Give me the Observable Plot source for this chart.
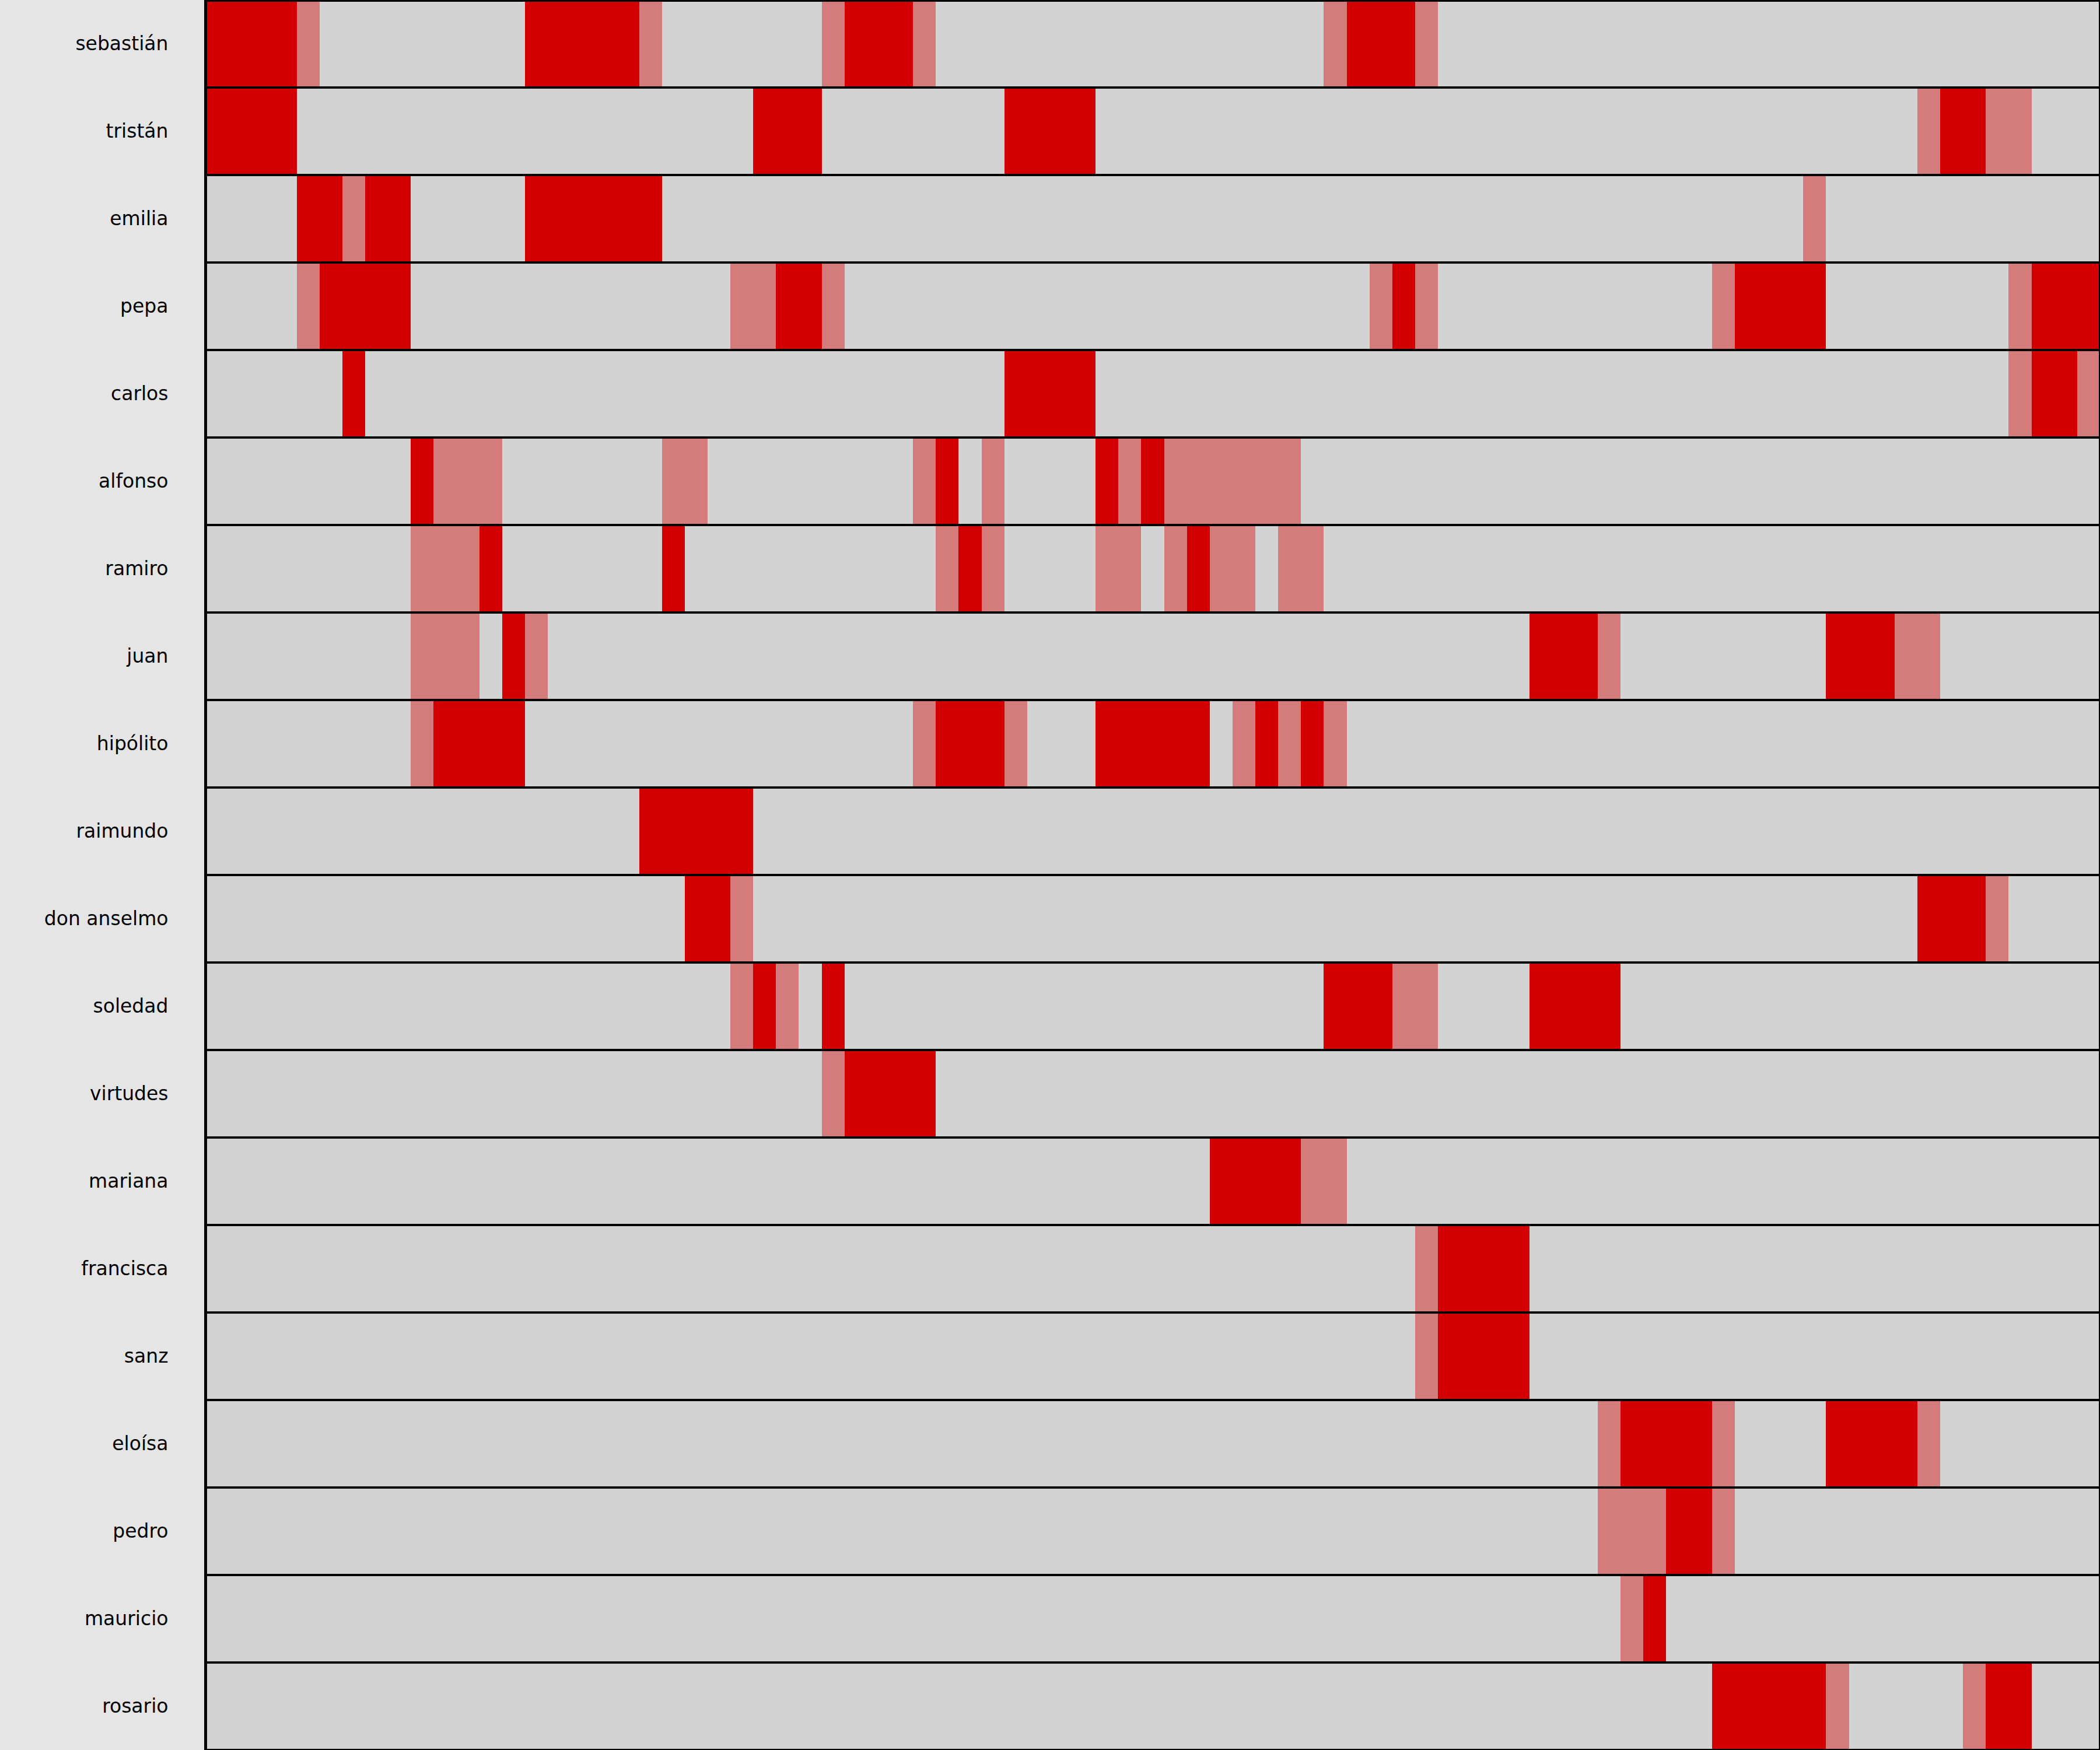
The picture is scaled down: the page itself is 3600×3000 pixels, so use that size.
<!DOCTYPE html>
<html>
<head>
<meta charset="utf-8">
<script src="https://cdn.jsdelivr.net/npm/d3@7"></script>
<script src="https://cdn.jsdelivr.net/npm/@observablehq/plot@0.6"></script>
<style>
  html, body { margin: 0; padding: 0; background: #e4e5e4; }
  svg { display: block; }
</style>
</head>
<body>
<div id="chart"></div>
<script>
// Characters (rows, top to bottom)
const names = ["sebastián", "tristán", "emilia", "pepa", "carlos", "alfonso", "ramiro", "juan", "hipólito", "raimundo", "don anselmo", "soledad", "virtudes", "mariana", "francisca", "sanz", "eloísa", "pedro", "mauricio", "rosario"];

// Number of scenes (columns)
const nScenes = 83;

// Scenes in which each character is present (ranges of scene indices)
const present = [
  "0-3 14-18 28-30 50-52",
  "0-3 24-26 35-38 76-77",
  "4-5 7-8 14-19",
  "5-8 25-26 52 67-70 80-82",
  "6 35-38 80-81",
  "9 32 39 41",
  "12 20 33 43",
  "13 58-60 71-73",
  "10-13 32-34 39-43 46 48",
  "19-23",
  "21-22 75-77",
  "24 27 49-51 58-61",
  "28-31",
  "44-47",
  "54-57",
  "54-57",
  "62-65 71-74",
  "64-65",
  "63",
  "66-70 78-79"
];

// Scenes in which each character is mentioned
const mentioned = [
  "4 19 27 31 49 53",
  "75 78-79",
  "6 70",
  "4 23-24 27 51 53 66 79",
  "79 82",
  "10-12 20-21 31 34 40 42-47",
  "9-11 32 34 39-40 42 44-45 47-48",
  "9-11 14 61 74-75",
  "9 31 35 45 47 49",
  "",
  "23 78",
  "23 25 52-53",
  "27",
  "48-49",
  "53",
  "53",
  "61 66 75",
  "61-63 66",
  "62",
  "71 77"
];

const states = ["absent", "mentioned", "present"];
const stateColors = ["#d3d3d3", "#d47b7b", "#d20000"];

function expand(spec) {
  const out = [];
  spec.trim().split(/\s+/).filter(s => s).forEach(tok => {
    const [a, b] = tok.split("-").map(Number);
    for (let i = a; i <= (b === undefined ? a : b); i++) out.push(i);
  });
  return out;
}

const cells = [];
names.forEach((name, r) => {
  const row = new Array(nScenes).fill("absent");
  expand(mentioned[r]).forEach(i => row[i] = "mentioned");
  expand(present[r]).forEach(i => row[i] = "present");
  row.forEach((s, i) => cells.push({name, scene: i, state: s}));
});

const chart = Plot.plot({
  width: 3600,
  height: 3000,
  marginLeft: 352,
  marginRight: 0,
  marginTop: 0,
  marginBottom: 0,
  style: {background: "#e4e5e4", fontFamily: "DejaVu Sans", fontSize: "33px", color: "black"},
  x: {domain: [0, nScenes], axis: null},
  y: {domain: names, padding: 0, tickSize: 0, tickPadding: 64, label: null},
  color: {domain: states, range: stateColors},
  marks: [
    Plot.barX(cells, {x1: d => d.scene, x2: d => d.scene + 1, y: "name", fill: "state", shapeRendering: "crispEdges"}),
    Plot.barX(names, {x1: 0, x2: nScenes, y: d => d, fill: "none", stroke: "black", strokeWidth: 3.5}),
    Plot.frame({stroke: "black", strokeWidth: 5})
  ]
});
document.getElementById("chart").appendChild(chart);
</script>
</body>
</html>
